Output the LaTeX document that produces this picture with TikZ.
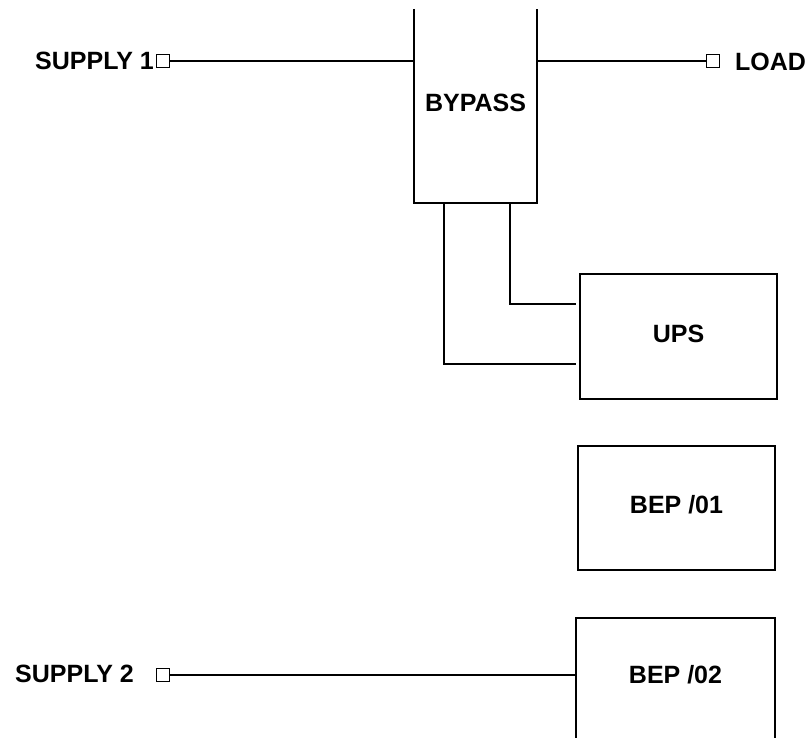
\documentclass[tikz,border=0pt]{standalone}
\usepackage{fontspec}
\setmainfont{Liberation Sans}
\begin{document}
\begin{tikzpicture}[x=1pt,y=-1pt,
  wire/.style={line width=2pt, black},
  txt/.style={font=\fontsize{25}{30}\selectfont\bfseries, inner sep=0pt},
  boxtxt/.style={txt, text height=18pt, text depth=7pt},
  blk/.style={draw, line width=2pt, minimum width=197pt, minimum height=125pt, inner sep=0pt, boxtxt},
  openblk/.style={inner sep=0pt, boxtxt},
  term/.style={draw, line width=1.5pt, minimum size=13pt, inner sep=0pt, fill=white},
  lbl/.style={txt}]
\useasboundingbox[fill=white] (0,0) rectangle (808,738);

% blocks
\node[openblk, minimum width=123pt, minimum height=194pt] (bypass) at (475.5,106) {BYPASS};
\draw[wire] (bypass.north west) -- (bypass.south west) -- (bypass.south east) -- (bypass.north east);

\node[blk] (ups) at (678.5,336.5) {UPS};
\node[blk, minimum height=124pt] (bep1) at (676.5,508) {BEP /01};

\node[openblk, minimum width=199pt, minimum height=120pt] (bep2) at (675.5,678) {BEP /02};
\draw[wire] (bep2.south west) -- (bep2.north west) -- (bep2.north east) -- (bep2.south east);

% terminals
\node[term] (s1t) at (163,61) {};
\node[term] (ldt) at (713,61) {};
\node[term] (s2t) at (163,675) {};

% labels
\node[lbl, anchor=east] (s1l) at (154,61) {SUPPLY 1};
\node[lbl, anchor=west] (ldl) at (735,62) {LOAD};
\node[lbl, anchor=east] (s2l) at (134,674) {SUPPLY 2};

% connectors
\draw[wire] (s1t.east) -- (s1t -| bypass.west);
\draw[wire] (ldt -| bypass.east) -- (ldt.west);
\draw[wire] (s2t.east) -- (s2t -| bep2.west);

\coordinate (b1) at ([xshift=30pt]bypass.south west);
\coordinate (b2) at ([xshift=-27pt]bypass.south east);
\coordinate (u1) at ([yshift=-27.5pt]ups.west);
\coordinate (u2) at ([yshift=32.5pt]ups.west);
\draw[wire] (b2) |- ([xshift=-3pt]u2);
\draw[wire] (b1) |- ([xshift=-3pt]u1);
\end{tikzpicture}
\end{document}
